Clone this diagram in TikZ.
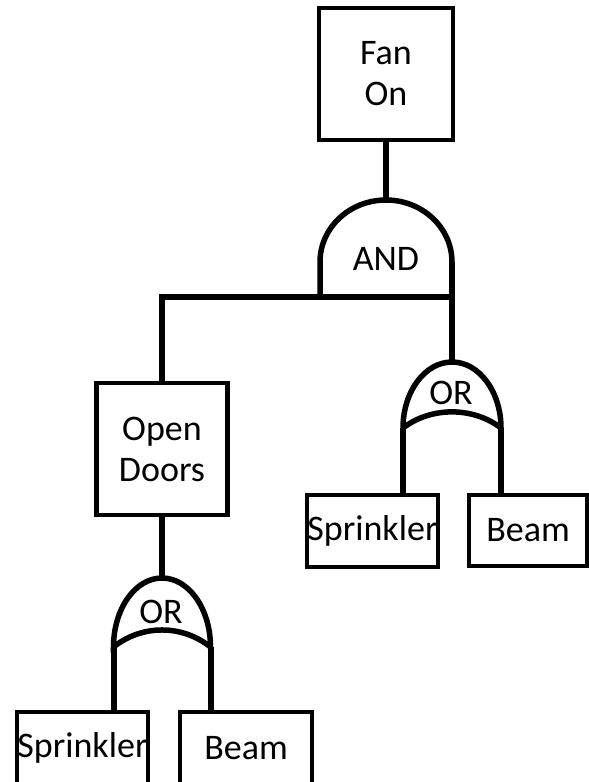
\documentclass[tikz,border=0pt]{standalone}
\usepackage{fontspec}
\setmainfont{Carlito}
\begin{document}
\begin{tikzpicture}[x=1pt,y=1pt,
  box/.style={draw, line width=4.5pt, inner sep=0pt, align=center,
    font=\fontsize{36}{41}\selectfont},
  wire/.style={line width=6pt},
  gate/.style={line width=5.5pt},
  lbl/.style={inner sep=0pt, font=\fontsize{36}{41}\selectfont}]
\useasboundingbox (0,0) rectangle (589,-782);

% event boxes
\node[box, minimum width=134, minimum height=132] (fan) at (386,-74) {Fan\\On};
\node[box, minimum width=131, minimum height=132] (od) at (162,-449) {Open\\Doors};
\node[box, minimum width=131, minimum height=72] (s1) at (372.5,-531) {Sprinkler};
\node[box, minimum width=118, minimum height=71] (b1) at (528,-530.5) {Beam};
\node[box, minimum width=131, minimum height=72] (s2) at (82.5,-748) {Sprinkler};
\node[box, minimum width=132, minimum height=72] (b2) at (246,-748) {Beam};

% AND gate
\coordinate (andtop) at (386,-200);
\coordinate (andl) at (320,-262);
\coordinate (andr) at (452,-262);
\coordinate (andbl) at (320,-297);
\coordinate (andbr) at (452,-297);
\draw[gate] (andbl) -- (andl) arc[start angle=180, end angle=0, x radius=66, y radius=62] -- (andbr);
\node[lbl] (andlbl) at (386,-259) {AND};

% right OR gate
\coordinate (or1top) at (452,-362);
\coordinate (or1l) at (403,-428);
\coordinate (or1r) at (501,-428);
\draw[gate] (or1l) arc[start angle=180, end angle=0, x radius=49, y radius=66]
  .. controls (473,-406.5) and (431,-406.5) .. (or1l) -- cycle;
\node[lbl] (or1lbl) at (451,-393) {OR};

% bottom OR gate
\coordinate (or2top) at (162,-578);
\coordinate (or2l) at (113.5,-647);
\coordinate (or2r) at (210.5,-647);
\draw[gate] (or2l) arc[start angle=180, end angle=0, x radius=48.5, y radius=69]
  .. controls (182,-624.3) and (142,-624.3) .. (or2l) -- cycle;
\node[lbl] (or2lbl) at (161,-612) {OR};

% connectors
\draw[wire] (fan.south) -- (andtop);
\draw[wire] (andr) -- (or1top);
\draw[wire] (andbr) -- (od.north |- andbl) -- (od.north);
\draw[wire] (or1l) -- (or1l |- s1.north);
\draw[wire] (or1r) -- (or1r |- b1.north);
\draw[wire] (od.south) -- (or2top);
\draw[wire] (or2l) -- (or2l |- s2.north);
\draw[wire] (or2r) -- (or2r |- b2.north);
\end{tikzpicture}
\end{document}
